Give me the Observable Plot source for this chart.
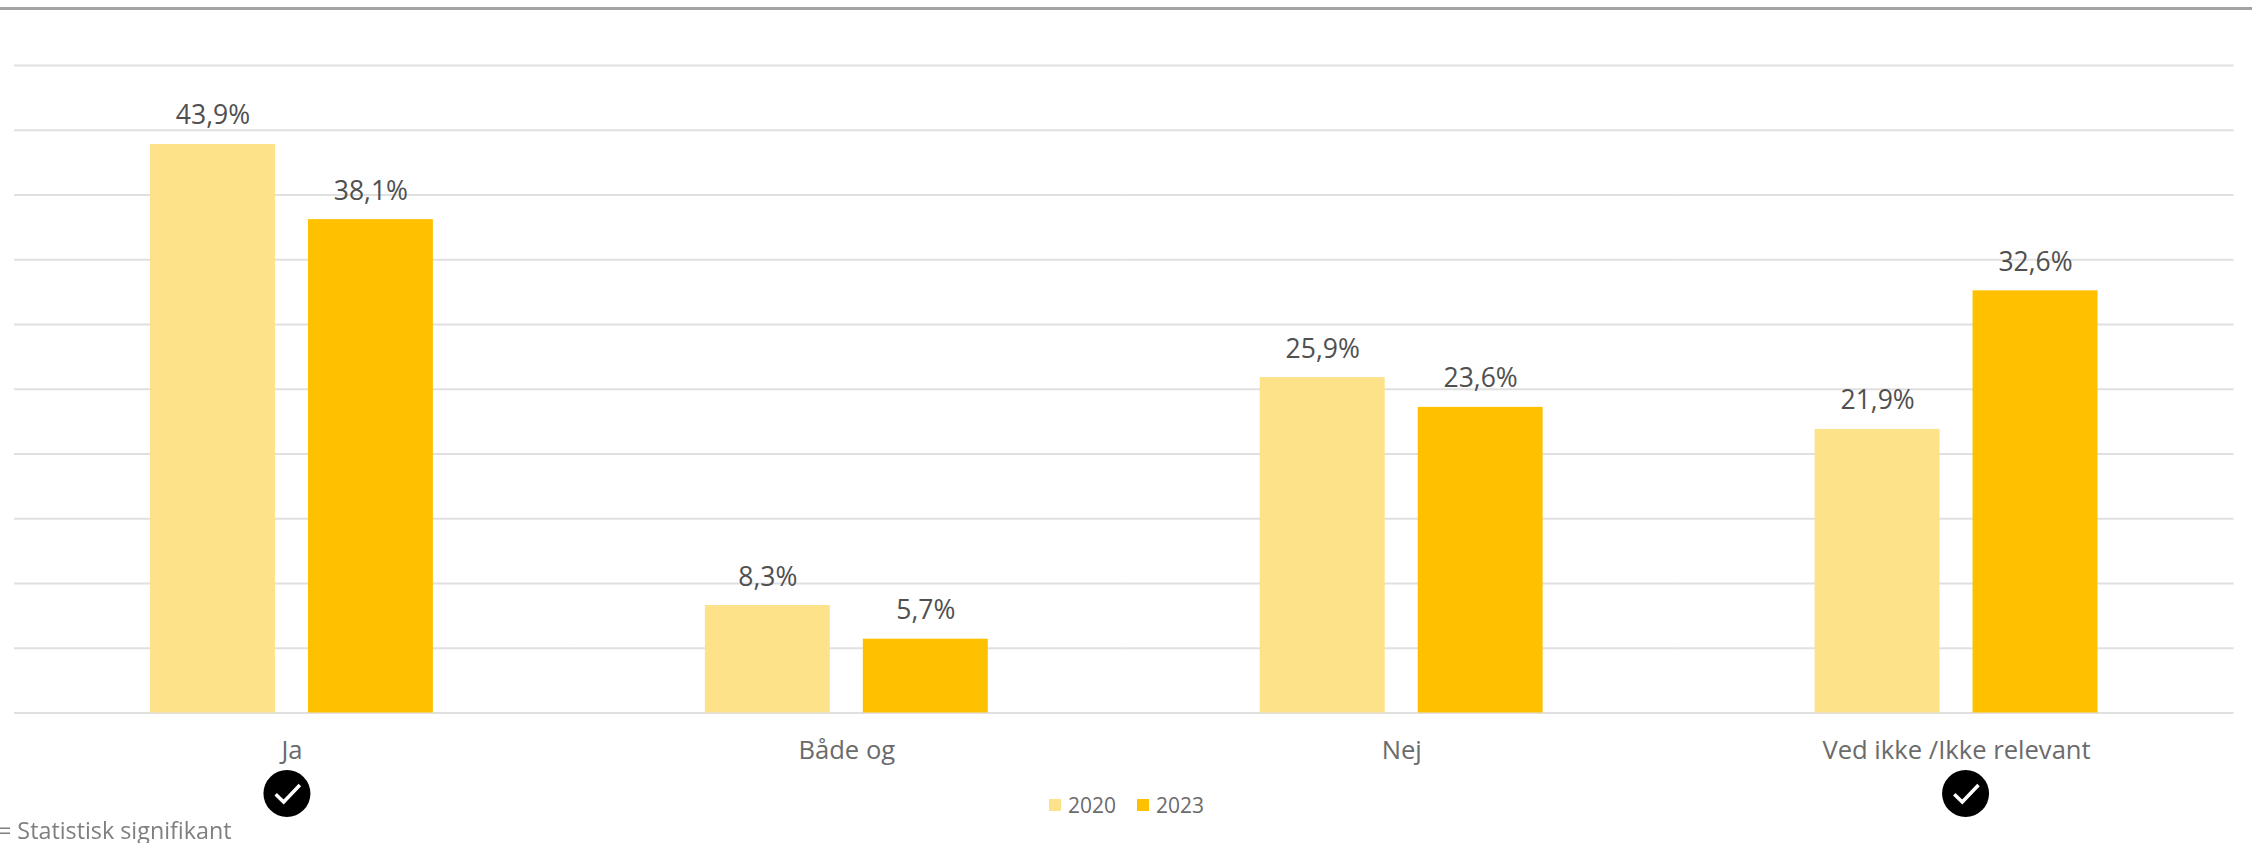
<!DOCTYPE html>
<html lang="da">
<head>
<meta charset="utf-8">
<script src="https://cdn.jsdelivr.net/npm/d3@7"></script>
<script src="https://cdn.jsdelivr.net/npm/@observablehq/plot@0.6"></script>
<style>
html,body{margin:0;padding:0;background:#fff;overflow:hidden;width:2252px;height:843px}
#wrap{position:relative;width:2252px;height:843px;font-family:"Open Sans",sans-serif}
#topline{position:absolute;left:0;top:7px;width:2252px;height:3px;background:#a3a3a3}
#legend{position:absolute;left:1049px;top:790px;display:flex;font-size:21px;color:#6b6b6b;line-height:30px}
#legend span{display:flex;align-items:center;margin-right:21px}
#legend i{display:inline-block;width:12px;height:12px;margin-right:7px}
#note{position:absolute;left:-2px;top:815px;font-size:23.3px;color:#7f7f7f;line-height:30px;white-space:nowrap;filter:blur(.5px)}
svg{display:block}
</style>
</head>
<body>
<div id="wrap">
<div id="chart"></div>
<div id="topline"></div>
<div id="legend"></div>
<div id="note"></div>
</div>
<script>
const categories = ["Ja", "Både og", "Nej", "Ved ikke /Ikke relevant"];
const years = ["2020", "2023"];
const values2020 = [43.9, 8.3, 25.9, 21.9];
const values2023 = [38.1, 5.7, 23.6, 32.6];
const gridTicks = [0, 5, 10, 15, 20, 25, 30, 35, 40, 45, 50];
const colors = ["#FEE28A", "#FFC000"];
const noteText = "= Statistisk signifikant";

const rows = categories.flatMap((c, i) => [
  {category: c, year: years[0], value: values2020[i]},
  {category: c, year: years[1], value: values2023[i]}
]);
const fmt = d => d.toFixed(1).replace(".", ",") + "%";

const checkSymbol = {
  draw(ctx, size) {
    const r = Math.sqrt(size / Math.PI);
    ctx.moveTo(-0.48 * r, 0.03 * r);
    ctx.lineTo(-0.14 * r, 0.36 * r);
    ctx.lineTo(0.55 * r, -0.36 * r);
  }
};

// One significance badge: a black disc and a white tick, below a category's label.
const badge = (category, dx) => [
  Plot.dot([{category, value: 0}], {
    fx: "category", y: "value", frameAnchor: "middle",
    dx, dy: 80.5, r: 23.5, fill: "#000", stroke: "none"
  }),
  Plot.dot([{category, value: 0}], {
    fx: "category", y: "value", frameAnchor: "middle",
    dx, dy: 80.5, r: 23.5, symbol: checkSymbol,
    fill: "none", stroke: "#fff", strokeWidth: 3.5
  })
];

const chart = Plot.plot({
  width: 2252,
  height: 843,
  marginLeft: 14,
  marginRight: 18.5,
  marginTop: 65,
  marginBottom: 130.5,
  style: {background: "#fff", fontFamily: "'Open Sans',sans-serif"},
  fx: {domain: categories, padding: 0, round: false, label: null},
  x: {domain: years, paddingInner: 0.209, paddingOuter: 0.861, round: false, axis: null},
  y: {domain: [0, 50], axis: null},
  color: {domain: years, range: colors},
  marks: [
    Plot.ruleY(gridTicks, {stroke: "#e0e0e0", strokeWidth: 2}),
    Plot.barY(rows, {fx: "category", x: "year", y: "value", fill: "year"}),
    Plot.text(rows, {
      fx: "category", x: "year", y: "value", text: d => fmt(d.value),
      lineAnchor: "bottom", dy: -20, fontSize: 26.5, fill: "#505050"
    }),
    Plot.axisFx({
      domain: categories, anchor: "bottom", tickSize: 0, tickPadding: 28,
      fontSize: 25.6, color: "#6b6b6b", label: null
    }),
    badge("Ja", -5),
    badge("Ved ikke /Ikke relevant", 9)
  ]
});
document.getElementById("chart").appendChild(chart);

const legend = document.getElementById("legend");
years.forEach((y, i) => {
  const s = document.createElement("span");
  const sw = document.createElement("i");
  sw.style.background = colors[i];
  s.appendChild(sw);
  s.appendChild(document.createTextNode(y));
  legend.appendChild(s);
});
document.getElementById("note").textContent = noteText;
</script>
</body>
</html>
